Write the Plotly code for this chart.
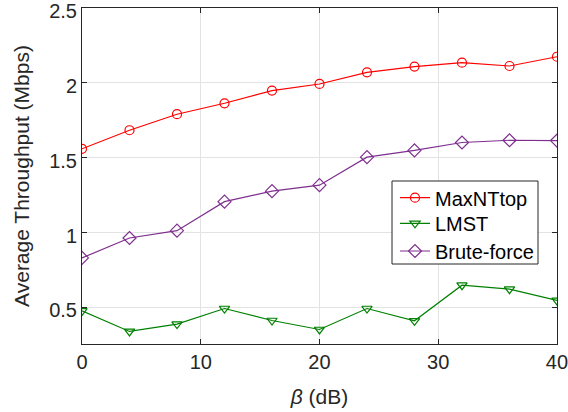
import plotly.graph_objects as go

beta = [0, 4, 8, 12, 16, 20, 24, 28, 32, 36, 40]
maxnttop = [1.56, 1.684, 1.791, 1.864, 1.949, 1.993, 2.071, 2.109, 2.135, 2.113, 2.175]
lmst = [0.477, 0.340, 0.389, 0.493, 0.413, 0.353, 0.493, 0.411, 0.649, 0.622, 0.547]
brute = [0.831, 0.964, 1.013, 1.207, 1.277, 1.317, 1.504, 1.549, 1.602, 1.617, 1.615]

FONT = "Liberation Sans, Arial, sans-serif"

# plot area in pixels
L, R, T, B = 82, 557, 8, 344
W, H = 568, 412
pw, ph = R - L, B - T

def px_x(p):
    return (p - L) / pw

def px_y(p):
    return (B - p) / ph

fig = go.Figure()
fig.add_trace(go.Scatter(x=beta, y=maxnttop, name="MaxNTtop", mode="lines+markers", legend="legend",
                         line=dict(color="#FF0000", width=1.2),
                         marker=dict(symbol="circle-open", size=9, color="#FF0000", line=dict(width=1.2))))
fig.add_trace(go.Scatter(x=beta, y=lmst, name="LMST", mode="lines+markers", legend="legend2",
                         line=dict(color="#008000", width=1.2),
                         marker=dict(symbol="triangle-down-open", size=9, color="#008000", line=dict(width=1.2))))
fig.add_trace(go.Scatter(x=beta, y=brute, name="Brute-force", mode="lines+markers", legend="legend3",
                         line=dict(color="#7E2F8E", width=1.2),
                         marker=dict(symbol="diamond-open", size=10, color="#7E2F8E", line=dict(width=1.2))))

axis_common = dict(showline=True, linecolor="#262626", linewidth=1, mirror="ticks",
                   ticks="inside", ticklen=5, tickcolor="#262626",
                   showgrid=True, gridcolor="#E3E3E3", gridwidth=1, zeroline=False,
                   automargin=False, ticklabeloverflow="allow",
                   tickfont=dict(family=FONT, size=20, color="#262626"))

legend_common = dict(xanchor="left", yanchor="middle", bgcolor="rgba(0,0,0,0)", borderwidth=0,
                     font=dict(family=FONT, size=20, color="black"), itemwidth=30)

fig.update_layout(
    width=W, height=H,
    margin=dict(l=L, r=W - R, t=T, b=H - B, autoexpand=False),
    paper_bgcolor="white", plot_bgcolor="white",
    font=dict(family=FONT, color="#262626"),
    xaxis=dict(range=[0, 40.001], tickvals=[0, 10, 20, 30, 40],
               title=dict(text="<i>β</i> (dB)", font=dict(family=FONT, size=21, color="#262626"), standoff=17),
               **axis_common),
    yaxis=dict(range=[0.256, 2.5005], tickvals=[0.5, 1, 1.5, 2, 2.5],
               ticktext=["0.5", "1", "1.5", "2", "2.5"], ticklabelshift=3,
               title=dict(text="Average Throughput (Mbps)", font=dict(family=FONT, size=21, color="#262626"), standoff=13),
               **axis_common),
    legend=dict(x=px_x(395), y=px_y(197.7), **legend_common),
    legend2=dict(x=px_x(395), y=px_y(223.3), **legend_common),
    legend3=dict(x=px_x(395), y=px_y(251), **legend_common),
    showlegend=True,
    shapes=[dict(type="rect", xref="paper", yref="paper",
                 x0=px_x(392), x1=px_x(538), y0=px_y(264), y1=px_y(181),
                 line=dict(color="#262626", width=1), fillcolor="white", layer="above")],
)

fig.write_html("out.html", config={"displayModeBar": False},
               post_script="document.body.style.margin='0';")
